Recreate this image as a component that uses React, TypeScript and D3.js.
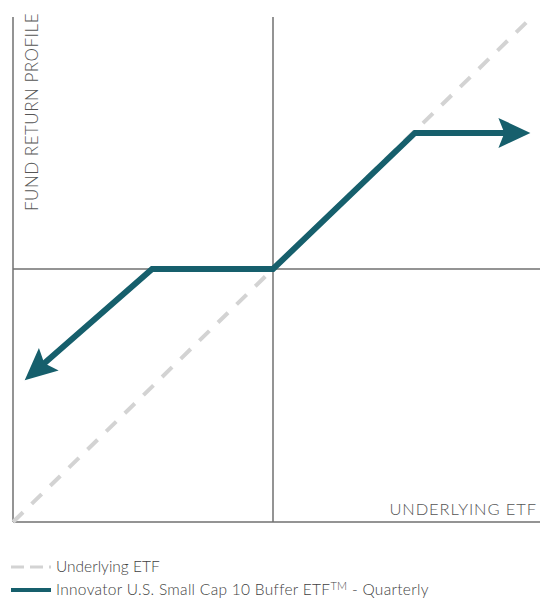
import React from "react";
import * as d3 from "d3";

const underlyingX = [-1, 1];
const underlyingY = [-1, 1];
const fundX = [-0.955, -0.465, 0, 0.546, 0.99];
const fundY = [-0.44, 0, 0, 0.538, 0.538];
const legendLabels = ["Underlying ETF", "Innovator U.S. Small Cap 10 Buffer ETF", "TM", " - Quarterly"];
const axisLabels = ["UNDERLYING ETF", "FUND RETURN PROFILE"];

const W = 540;
const H = 598;
const TEAL = "#165f6c";
const FONT = "Lato, 'Open Sans', sans-serif";

export default function App() {
  const x = d3.scaleLinear().domain([-1, 1]).range([13, 533]);
  const y = d3.scaleLinear().domain([-1, 1]).range([522, 16]);
  const line = d3.line<[number, number]>().x((d) => x(d[0])).y((d) => y(d[1]));
  const under: [number, number][] = underlyingX.map((v, i) => [v, underlyingY[i]]);
  const fund: [number, number][] = fundX.map((v, i) => [v, fundY[i]]);

  const arrowHead = (tip: [number, number], from: [number, number]) => {
    const tx = x(tip[0]), ty = y(tip[1]);
    const fx = x(from[0]), fy = y(from[1]);
    const ang = Math.atan2(ty - fy, tx - fx);
    const L = 32, Wd = 15;
    const bx = tx - L * Math.cos(ang), by = ty - L * Math.sin(ang);
    const px = -Math.sin(ang), py = Math.cos(ang);
    const back = 6;
    const nx = tx - (L - back) * Math.cos(ang), ny = ty - (L - back) * Math.sin(ang);
    return `M${tx},${ty} L${bx + px * Wd},${by + py * Wd} L${nx},${ny} L${bx - px * Wd},${by - py * Wd} Z`;
  };

  const shorten = (pts: [number, number][], px: number) => {
    const out = pts.map((p) => [x(p[0]), y(p[1])] as [number, number]);
    const adj = (a: [number, number], b: [number, number]) => {
      const dx = a[0] - b[0], dy = a[1] - b[1];
      const len = Math.hypot(dx, dy);
      return [a[0] - (dx / len) * px, a[1] - (dy / len) * px] as [number, number];
    };
    out[0] = adj(out[0], out[1]);
    out[out.length - 1] = adj(out[out.length - 1], out[out.length - 2]);
    return out;
  };
  const fundPx = shorten(fund, 20);

  return (
    <svg width={W} height={H} style={{ position: "absolute", left: 0, top: 0 }}>
      <rect width={W} height={H} fill="#fff" />
      <line x1={x(-1)} x2={x(-1)} y1={17} y2={y(-1)} stroke="#707070" strokeWidth={1.5} />
      <line x1={x(-1)} x2={540} y1={y(-1)} y2={y(-1)} stroke="#707070" strokeWidth={1.5} />
      <line x1={x(0)} x2={x(0)} y1={17} y2={y(-1)} stroke="#707070" strokeWidth={1.5} />
      <line x1={x(-1)} x2={540} y1={y(0)} y2={y(0)} stroke="#707070" strokeWidth={1.5} />
      <path d={line(under) || ""} fill="none" stroke="#d3d3d3" strokeWidth={4} strokeDasharray="14 12" />
      <path d={d3.line()(fundPx) || ""} fill="none" stroke={TEAL} strokeWidth={6} strokeLinejoin="miter" />
      <path d={arrowHead(fund[0], fund[1])} fill={TEAL} />
      <path d={arrowHead(fund[fund.length - 1], fund[fund.length - 2])} fill={TEAL} />
      <text
        x={537}
        y={515}
        textAnchor="end"
        fontFamily={FONT}
        fontSize={16.5}
        fontWeight={300}
        letterSpacing={0.9}
        fill="#555"
      >
        {axisLabels[0]}
      </text>
      <text
        transform="translate(38,211) rotate(-90)"
        fontFamily={FONT}
        fontSize={17}
        fontWeight={300}
        letterSpacing={0.5}
        fill="#555"
      >
        {axisLabels[1]}
      </text>
      <line x1={11} x2={51} y1={567} y2={567} stroke="#d3d3d3" strokeWidth={3} strokeDasharray="13 6" />
      <text x={56} y={572} fontFamily={FONT} fontSize={15.5} fontWeight={300} fill="#3f3f3f">
        {legendLabels[0]}
      </text>
      <line x1={11} x2={51} y1={590} y2={590} stroke={TEAL} strokeWidth={4} />
      <text x={56} y={595} fontFamily={FONT} fontSize={15.5} fontWeight={300} letterSpacing={0.3} fill="#3f3f3f">
        {legendLabels[1]}
        <tspan fontSize={11} dy={-5}>{legendLabels[2]}</tspan>
        <tspan dy={5}>{legendLabels[3]}</tspan>
      </text>
    </svg>
  );
}
